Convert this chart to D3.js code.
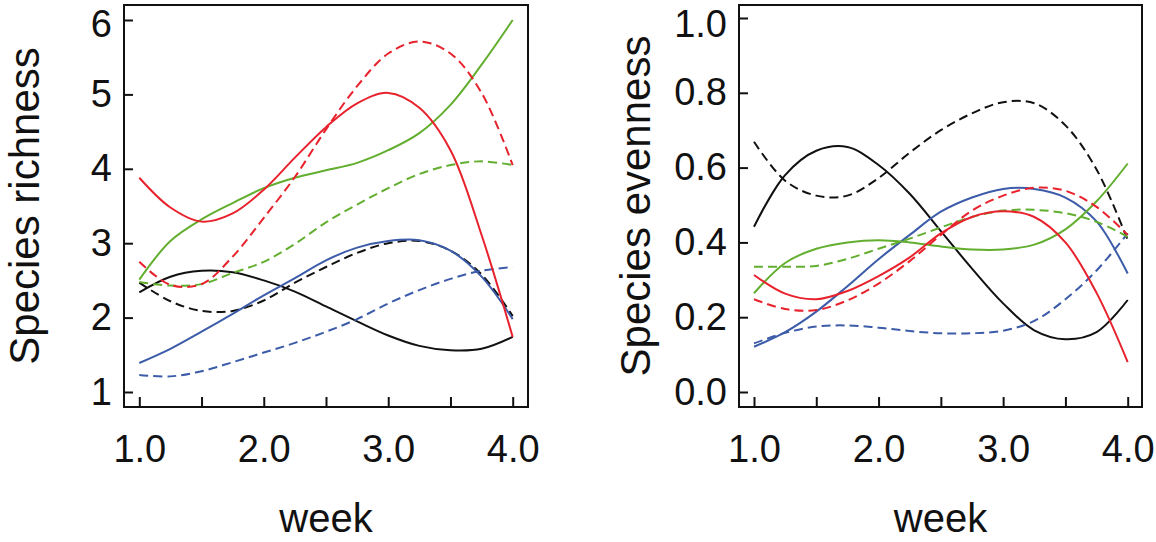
<!DOCTYPE html>
<html>
<head>
<meta charset="utf-8">
<script src="https://cdn.jsdelivr.net/npm/d3@7"></script>
<style>
  html, body { margin: 0; padding: 0; background: #fff; }
  svg { display: block; }
  text { font-family: "Liberation Sans", Arial, sans-serif; fill: #111; }
</style>
</head>
<body>
<svg id="chart" width="1156" height="542"></svg>
<script>
// ---- data ----
const weeks = [1.0, 1.25, 1.5, 1.75, 2.0, 2.25, 2.5, 2.75, 3.0, 3.25, 3.5, 3.75, 4.0];
const xTickValues = [1.0, 1.5, 2.0, 2.5, 3.0, 3.5, 4.0];
const xTickLabels = ["1.0", "", "2.0", "", "3.0", "", "4.0"];
const richnessTicks = [1, 2, 3, 4, 5, 6];
const evennessTicks = [0.0, 0.2, 0.4, 0.6, 0.8, 1.0];

// Species richness
const richBlackSolid = [2.34, 2.55, 2.63, 2.61, 2.50, 2.35, 2.15, 1.95, 1.76, 1.62, 1.56, 1.58, 1.74];
const richBlackDashed = [2.47, 2.22, 2.09, 2.09, 2.23, 2.47, 2.68, 2.87, 3.00, 3.03, 2.90, 2.58, 2.02];
const richRedSolid = [3.88, 3.48, 3.29, 3.40, 3.72, 4.15, 4.56, 4.88, 5.02, 4.82, 4.25, 3.11, 1.74];
const richRedDashed = [2.75, 2.44, 2.45, 2.82, 3.34, 3.89, 4.53, 5.11, 5.55, 5.71, 5.55, 5.02, 4.05];
const richGreenSolid = [2.51, 3.03, 3.32, 3.54, 3.74, 3.88, 3.98, 4.08, 4.25, 4.48, 4.86, 5.40, 6.00];
const richGreenDashed = [2.48, 2.43, 2.45, 2.60, 2.75, 2.99, 3.28, 3.52, 3.74, 3.93, 4.05, 4.10, 4.05];
const richBlueSolid = [1.39, 1.58, 1.81, 2.05, 2.30, 2.53, 2.77, 2.94, 3.03, 3.04, 2.90, 2.55, 1.98];
const richBlueDashed = [1.23, 1.21, 1.28, 1.40, 1.53, 1.66, 1.81, 1.98, 2.19, 2.37, 2.52, 2.63, 2.68];

// Species evenness
const evenBlackSolid = [0.442, 0.580, 0.645, 0.655, 0.607, 0.530, 0.430, 0.330, 0.237, 0.165, 0.141, 0.160, 0.246];
const evenBlackDashed = [0.669, 0.565, 0.525, 0.525, 0.572, 0.640, 0.700, 0.745, 0.775, 0.772, 0.713, 0.595, 0.406];
const evenRedSolid = [0.313, 0.263, 0.248, 0.270, 0.310, 0.360, 0.424, 0.468, 0.483, 0.468, 0.400, 0.265, 0.080];
const evenRedDashed = [0.248, 0.222, 0.219, 0.245, 0.290, 0.350, 0.420, 0.485, 0.525, 0.546, 0.538, 0.495, 0.420];
const evenGreenSolid = [0.264, 0.345, 0.383, 0.400, 0.406, 0.400, 0.389, 0.381, 0.381, 0.394, 0.435, 0.510, 0.611];
const evenGreenDashed = [0.335, 0.335, 0.337, 0.356, 0.383, 0.410, 0.440, 0.468, 0.485, 0.487, 0.478, 0.455, 0.415];
const evenBlueSolid = [0.121, 0.160, 0.215, 0.283, 0.355, 0.420, 0.482, 0.520, 0.543, 0.543, 0.520, 0.456, 0.317];
const evenBlueDashed = [0.130, 0.158, 0.175, 0.178, 0.172, 0.163, 0.157, 0.157, 0.164, 0.190, 0.248, 0.325, 0.424];

// ---- styles ----
const COL = { black: "#111111", red: "#e8222c", green: "#62ae2f", blue: "#3c5ba8" };
const DASH = "9,5";

const richSeries = [
  { v: richBlackSolid, c: COL.black, d: null },
  { v: richBlackDashed, c: COL.black, d: DASH },
  { v: richBlueDashed, c: COL.blue, d: DASH },
  { v: richBlueSolid, c: COL.blue, d: null },
  { v: richGreenDashed, c: COL.green, d: DASH },
  { v: richGreenSolid, c: COL.green, d: null },
  { v: richRedDashed, c: COL.red, d: DASH },
  { v: richRedSolid, c: COL.red, d: null }
];
const evenSeries = [
  { v: evenBlackSolid, c: COL.black, d: null },
  { v: evenBlackDashed, c: COL.black, d: DASH },
  { v: evenBlueDashed, c: COL.blue, d: DASH },
  { v: evenBlueSolid, c: COL.blue, d: null },
  { v: evenGreenDashed, c: COL.green, d: DASH },
  { v: evenGreenSolid, c: COL.green, d: null },
  { v: evenRedDashed, c: COL.red, d: DASH },
  { v: evenRedSolid, c: COL.red, d: null }
];

const svg = d3.select("#chart");
const FONT = '"Liberation Sans", Arial, sans-serif';

function panel(cfg) {
  const g = svg.append("g");
  const x = d3.scaleLinear().domain([1, 4]).range([cfg.x1, cfg.x4]);
  const y = d3.scaleLinear().domain(cfg.yDomain).range(cfg.yRange);

  // curves
  const line = d3.line()
    .x((d, i) => x(weeks[i]))
    .y(d => y(d))
    .curve(d3.curveCatmullRom.alpha(0.5));
  cfg.series.forEach(s => {
    g.append("path")
      .attr("d", line(s.v))
      .attr("fill", "none")
      .attr("stroke", s.c)
      .attr("stroke-width", 2)
      .attr("stroke-dasharray", s.d);
  });

  // x axis (ticks inside)
  const xa = g.append("g")
    .attr("transform", `translate(0,${cfg.bottom})`)
    .call(d3.axisBottom(x)
      .tickValues(xTickValues)
      .tickSize(-10)
      .tickPadding(28)
      .tickFormat((d, i) => xTickLabels[i]));
  xa.select(".domain").remove();
  xa.selectAll("line").attr("stroke", "#111").attr("stroke-width", 2);
  xa.selectAll("text").style("font-size", "38px").attr("fill", "#111")
    .style("font-family", FONT);

  // y axis (ticks inside)
  const ya = g.append("g")
    .attr("transform", `translate(${cfg.left},0)`)
    .call(d3.axisLeft(y)
      .tickValues(cfg.yTicks)
      .tickSize(-9)
      .tickPadding(12)
      .tickFormat(cfg.yFormat));
  ya.select(".domain").remove();
  ya.selectAll("line").attr("stroke", "#111").attr("stroke-width", 2);
  ya.selectAll("text").style("font-size", "38px").attr("fill", "#111")
    .style("font-family", FONT)
    .attr("dy", d => y(d) < 30 ? (36 - y(d)) + "px" : "0.32em");

  // frame
  g.append("rect")
    .attr("x", cfg.left).attr("y", cfg.top)
    .attr("width", cfg.right - cfg.left).attr("height", cfg.bottom - cfg.top)
    .attr("fill", "none").attr("stroke", "#111").attr("stroke-width", 2);

  // titles
  g.append("text")
    .attr("x", (cfg.left + cfg.right) / 2).attr("y", 532)
    .attr("text-anchor", "middle")
    .style("font-size", "40px")
    .text("week");
  g.append("text")
    .attr("transform", `translate(${cfg.titleX},${(cfg.top + cfg.bottom) / 2}) rotate(-90)`)
    .attr("text-anchor", "middle")
    .style("font-size", "42px")
    .text(cfg.yTitle);
}

panel({
  left: 124, right: 528, top: 5, bottom: 407,
  x1: 139.3, x4: 512.7,
  yDomain: [1, 6], yRange: [392, 20],
  yTicks: richnessTicks, yFormat: d3.format("d"),
  series: richSeries, titleX: 39, yTitle: "Species richness"
});
panel({
  left: 739, right: 1142, top: 5, bottom: 407,
  x1: 754, x4: 1127.7,
  yDomain: [0, 1], yRange: [392, 18],
  yTicks: evennessTicks, yFormat: d3.format(".1f"),
  series: evenSeries, titleX: 650, yTitle: "Species evenness"
});
</script>
</body>
</html>
